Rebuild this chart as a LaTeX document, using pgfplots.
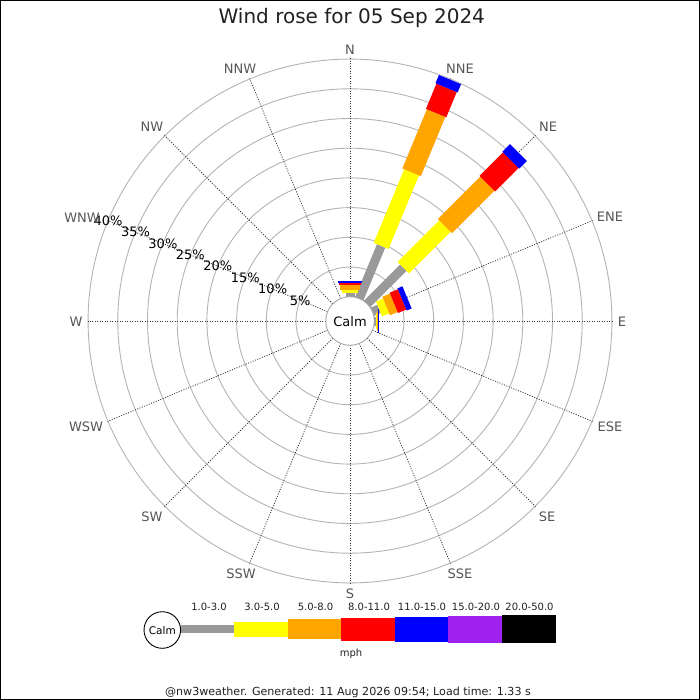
\documentclass[border=0pt]{standalone}
\usepackage{pgfplots}
\pgfplotsset{compat=1.18}
\usepackage{pgfplotstable}
\usepackage{fontspec}
\setmainfont{DejaVu Sans}

\definecolor{cGray}{HTML}{999999}
\definecolor{cYel}{HTML}{FFFF00}
\definecolor{cOra}{HTML}{FFA500}
\definecolor{cRed}{HTML}{FF0000}
\definecolor{cBlu}{HTML}{0000FF}
\definecolor{cPur}{HTML}{A020F0}
\definecolor{lab}{HTML}{555555}
\definecolor{ringc}{HTML}{B4B4B4}

% wind rose data: compass direction (deg) and percentage per speed class
% c1: 1-3, c2: 3-5, c3: 5-8, c4: 8-11, c5: 11-15 mph
\pgfplotstableread{
dir   c1    c2    c3    c4    c5
0     0.6   0.6   0.85  0.2   0.35
22.5  9.6   13.4  10.8  4.6   1.5
45    8.6   9.9   10.1  5.6   1.8
67.5  1.2   1.3   1.4   1.5   0.9
90    0.35  0.1   0.15  0.0   0.15
}\rose

% radius in px: 24.3 (calm) + 5.94 px per percent
\newcommand{\roseseg}[4]{%
  \addplot[draw=#1, line width=#2, line cap=butt,
    quiver={u={5.94*(#4)*sin(\thisrow{dir})}, v={-5.94*(#4)*cos(\thisrow{dir})}}]
    table[x expr={350+(24.3+5.94*(#3))*sin(\thisrow{dir})},
          y expr={321-(24.3+5.94*(#3))*cos(\thisrow{dir})}] {\rose};
}

\begin{document}
\begin{tikzpicture}
\begin{axis}[
  scale only axis, width=700pt, height=700pt,
  xmin=0, xmax=700, ymin=0, ymax=700, y dir=reverse,
  hide axis, clip=false,
]
\fill[white] (axis cs:0,0) rectangle (axis cs:700,700);

% rings
\pgfplotsinvokeforeach{1,...,8}{
  \draw[ringc, line width=0.9pt] (axis cs:350,321) circle[radius={24.3+29.7*#1}];
}
% spokes
\pgfplotsinvokeforeach{0,...,15}{
  \draw[black!80, line width=0.8pt, dash pattern=on 1pt off 1.5pt]
    (axis cs:{350+24.3*sin(#1*22.5)},{321-24.3*cos(#1*22.5)}) --
    (axis cs:{350+262.5*sin(#1*22.5)},{321-262.5*cos(#1*22.5)});
}

% bars
\roseseg{cGray}{9pt}{0}{\thisrow{c1}}
\roseseg{cYel}{16pt}{\thisrow{c1}}{\thisrow{c2}}
\roseseg{cOra}{20pt}{\thisrow{c1}+\thisrow{c2}}{\thisrow{c3}}
\roseseg{cRed}{22pt}{\thisrow{c1}+\thisrow{c2}+\thisrow{c3}}{\thisrow{c4}}
\roseseg{cBlu}{24pt}{\thisrow{c1}+\thisrow{c2}+\thisrow{c3}+\thisrow{c4}}{\thisrow{c5}}

% calm circle
\draw[black!35, fill=white, line width=0.9pt] (axis cs:350,321) circle[radius=24.3];
\node[font=\fontsize{13}{15}\selectfont, inner sep=0pt] at (axis cs:350,322) {Calm};

% ring labels
\begin{scope}[every node/.style={font=\fontsize{13}{15}\selectfont, inner sep=0pt, text=black}]
\node at (axis cs:{350-0.92388*54.0},{321-0.38268*54.0}) {5\%};
\node at (axis cs:{350-0.92388*83.7},{321-0.38268*83.7}) {10\%};
\node at (axis cs:{350-0.92388*113.4},{321-0.38268*113.4}) {15\%};
\node at (axis cs:{350-0.92388*143.1},{321-0.38268*143.1}) {20\%};
\node at (axis cs:{350-0.92388*172.8},{321-0.38268*172.8}) {25\%};
\node at (axis cs:{350-0.92388*202.5},{321-0.38268*202.5}) {30\%};
\node at (axis cs:{350-0.92388*232.2},{321-0.38268*232.2}) {35\%};
\node at (axis cs:{350-0.92388*261.9},{321-0.38268*261.9}) {40\%};
\end{scope}

% direction labels
\begin{scope}[every node/.style={font=\fontsize{13}{15}\selectfont, inner sep=0pt, text=lab}]
\node at (axis cs:350,50) {N};
\node at (axis cs:460,69) {NNE};
\node at (axis cs:548,127) {NE};
\node at (axis cs:610,217) {ENE};
\node at (axis cs:622,322) {E};
\node at (axis cs:610,427) {ESE};
\node at (axis cs:547,517) {SE};
\node at (axis cs:460,574) {SSE};
\node at (axis cs:350,594) {S};
\node at (axis cs:241,574) {SSW};
\node at (axis cs:152,517) {SW};
\node at (axis cs:86,427) {WSW};
\node at (axis cs:76,322) {W};
\node at (axis cs:82,218) {WNW};
\node at (axis cs:152,127) {NW};
\node at (axis cs:240,69) {NNW};
\end{scope}

% title
\node[font=\fontsize{20}{24}\selectfont, text=black!87, inner sep=0pt, anchor=base] at (axis cs:351.8,24) {Wind rose for 05 Sep 2024};

% legend
\addplot[draw=cGray, line width=8.3pt] coordinates {(180.6,629.2) (234,629.2)};
\addplot[draw=cYel, line width=15pt] coordinates {(234,629.2) (288,629.2)};
\addplot[draw=cOra, line width=20.3pt] coordinates {(288,629.2) (341,629.2)};
\addplot[draw=cRed, line width=23pt] coordinates {(341,629.2) (395,629.2)};
\addplot[draw=cBlu, line width=25pt] coordinates {(395,629.2) (448,629.2)};
\addplot[draw=cPur, line width=27pt] coordinates {(448,629.2) (502,629.2)};
\addplot[draw=black, line width=28.3pt] coordinates {(502,629.2) (556,629.2)};
\draw[black, fill=white, line width=0.9pt] (axis cs:162.3,630) circle[radius=18.3];
\node[font=\fontsize{10.5}{12}\selectfont, inner sep=0pt] at (axis cs:162.3,630.5) {Calm};
\begin{scope}[every node/.style={font=\fontsize{10}{12}\selectfont, inner sep=0pt, text=black!87}]
\node at (axis cs:209,607) {1.0-3.0};
\node at (axis cs:262,607) {3.0-5.0};
\node at (axis cs:315.5,607) {5.0-8.0};
\node at (axis cs:369,607) {8.0-11.0};
\node at (axis cs:422,607) {11.0-15.0};
\node at (axis cs:476,607) {15.0-20.0};
\node at (axis cs:529.5,607) {20.0-50.0};
\node at (axis cs:351,654) {mph};
\end{scope}
\node[font=\fontsize{11.1}{13}\selectfont, inner sep=0pt, text=black!87] at (axis cs:348,692.5) {@nw3weather. Generated: 11 Aug 2026 09:54; Load time: 1.33 s};

% frame
\draw[black, line width=1pt] (axis cs:0.5,0.5) rectangle (axis cs:699.5,699.5);
\end{axis}
\end{tikzpicture}
\end{document}
